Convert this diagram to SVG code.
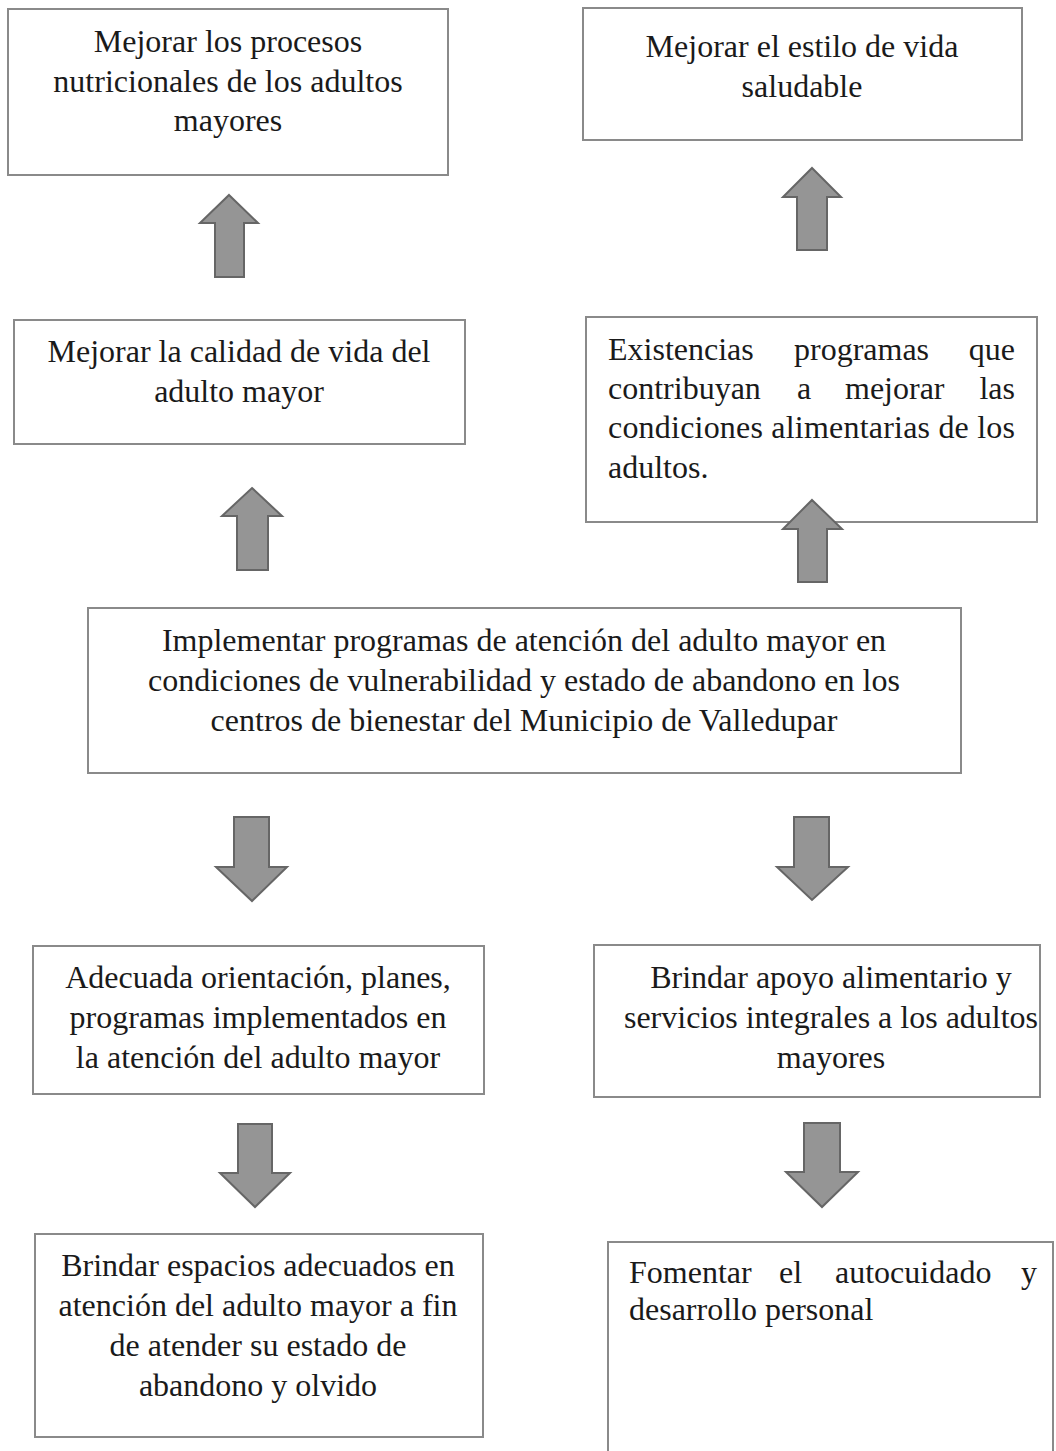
<svg xmlns="http://www.w3.org/2000/svg" width="1056" height="1451" viewBox="0 0 1056 1451">
<style>
.box{fill:#fff;stroke:#8a8a8a;stroke-width:2}
.t{font-family:"Liberation Serif","Times New Roman",serif;font-size:32px;fill:#1a1a1a}
.c{text-anchor:middle}
.e{text-anchor:end}
.arr{fill:#959595;stroke:#666;stroke-width:2;stroke-linejoin:miter}
</style>
<rect width="1056" height="1451" fill="#fff"/>
<g id="n1"><rect class="box" x="8" y="9" width="440" height="166"/>
<text class="t c" x="228" y="52">Mejorar los procesos</text>
<text class="t c" x="228" y="92">nutricionales de los adultos</text>
<text class="t c" x="228" y="131">mayores</text></g>
<g id="n2"><rect class="box" x="583" y="8" width="439" height="132"/>
<text class="t c" x="802" y="57">Mejorar el estilo de vida</text>
<text class="t c" x="802" y="97">saludable</text></g>
<g id="n3"><rect class="box" x="14" y="320" width="451" height="124"/>
<text class="t c" x="239" y="362">Mejorar la calidad de vida del</text>
<text class="t c" x="239" y="402">adulto mayor</text></g>
<g id="n4"><rect class="box" x="586" y="317" width="451" height="205"/>
<text class="t" x="608" y="360">Existencias</text><text class="t" x="794" y="360">programas</text><text class="t e" x="1015" y="360">que</text>
<text class="t" x="608" y="399">contribuyan</text><text class="t" x="797" y="399">a</text><text class="t" x="845" y="399">mejorar</text><text class="t e" x="1015" y="399">las</text>
<text class="t" x="608" y="438" textLength="407" lengthAdjust="spacing">condiciones alimentarias de los</text>
<text class="t" x="608" y="478">adultos.</text></g>
<g id="n5"><rect class="box" x="88" y="608" width="873" height="165"/>
<text class="t c" x="524" y="651">Implementar programas de atención del adulto mayor en</text>
<text class="t c" x="524" y="691">condiciones de vulnerabilidad y estado de abandono en los</text>
<text class="t c" x="524" y="731">centros de bienestar del Municipio de Valledupar</text></g>
<g id="n6"><rect class="box" x="33" y="946" width="451" height="148"/>
<text class="t c" x="258" y="988">Adecuada orientación, planes,</text>
<text class="t c" x="258" y="1028">programas implementados en</text>
<text class="t c" x="258" y="1068">la atención del adulto mayor</text></g>
<g id="n7"><rect class="box" x="594" y="945" width="446" height="152"/>
<text class="t c" x="831" y="988">Brindar apoyo alimentario y</text>
<text class="t c" x="831" y="1028">servicios integrales a los adultos</text>
<text class="t c" x="831" y="1068">mayores</text></g>
<g id="n8"><rect class="box" x="35" y="1234" width="448" height="203"/>
<text class="t c" x="258" y="1276">Brindar espacios adecuados en</text>
<text class="t c" x="258" y="1316">atención del adulto mayor a fin</text>
<text class="t c" x="258" y="1356">de atender su estado de</text>
<text class="t c" x="258" y="1396">abandono y olvido</text></g>
<g id="n9"><rect class="box" x="608" y="1242" width="445" height="230"/>
<text class="t" x="629" y="1283">Fomentar</text><text class="t" x="779" y="1283">el</text><text class="t" x="835" y="1283">autocuidado</text><text class="t e" x="1037" y="1283">y</text>
<text class="t" x="629" y="1320">desarrollo personal</text></g>
<g id="connectors">
<polygon class="arr" points="229,195 258,223 244,223 244,277 215,277 215,223 200,223"/>
<polygon class="arr" points="812,168 841,197 827,197 827,250 797,250 797,197 783,197"/>
<polygon class="arr" points="252,488 282,516 268,516 268,570 237,570 237,516 222,516"/>
<polygon class="arr" points="812,500 842,529 827,529 827,582 798,582 798,529 783,529"/>
<polygon class="arr" points="234,817 269,817 269,867 287,867 252,901 216,867 234,867"/>
<polygon class="arr" points="794,817 829,817 829,867 848,867 812,900 777,867 794,867"/>
<polygon class="arr" points="238,1124 272,1124 272,1173 290,1173 255,1207 220,1173 238,1173"/>
<polygon class="arr" points="804,1123 840,1123 840,1172 858,1172 822,1207 786,1172 804,1172"/>
</g>
</svg>
